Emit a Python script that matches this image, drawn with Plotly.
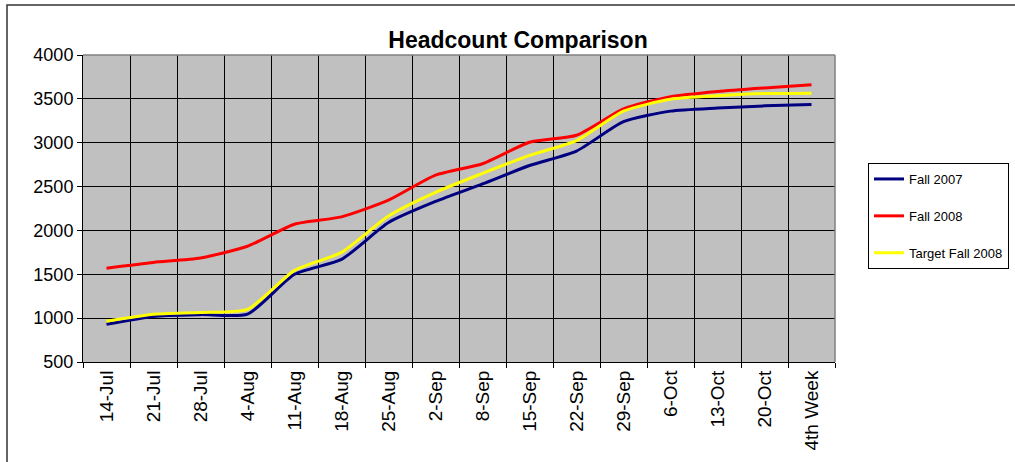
import plotly.graph_objects as go

weeks = ["14-Jul", "21-Jul", "28-Jul", "4-Aug", "11-Aug", "18-Aug", "25-Aug", "2-Sep",
         "8-Sep", "15-Sep", "22-Sep", "29-Sep", "6-Oct", "13-Oct", "20-Oct", "4th Week"]
fall_2007 = [930, 1020, 1040, 1045, 1500, 1670, 2090, 2330, 2530, 2740, 2905, 3240,
             3360, 3395, 3420, 3435]
fall_2008 = [1570, 1635, 1685, 1820, 2070, 2155, 2345, 2630, 2760, 3005, 3085, 3385,
             3525, 3585, 3625, 3660]
target_2008 = [965, 1045, 1065, 1100, 1545, 1750, 2165, 2435, 2650, 2855, 3025, 3360,
               3495, 3535, 3560, 3565]

series = [("Fall 2007", fall_2007, "#000080"),
          ("Fall 2008", fall_2008, "#FF0000"),
          ("Target Fall 2008", target_2008, "#FFFF00")]

FONT = "Arial, Liberation Sans, sans-serif"

fig = go.Figure()
for name, vals, col in series:
    fig.add_trace(go.Scatter(
        x=weeks, y=vals, name=name, mode="lines",
        line=dict(color=col, width=3, shape="spline", smoothing=0.6),
        legendgroup=name,
    ))

fig.update_layout(
    width=1015, height=462,
    margin=dict(l=83, r=180, t=55, b=100, autoexpand=False),
    paper_bgcolor="white",
    plot_bgcolor="#C0C0C0",
    font=dict(family=FONT, color="black"),
    title=dict(text="<b>Headcount Comparison</b>", font=dict(family=FONT, size=23, color="black"),
               x=518 / 1015, xanchor="center", xref="container",
               y=1 - 40 / 462, yanchor="middle", yref="container"),
    showlegend=True,
    legend=dict(x=(868 - 83) / 752, xanchor="left", y=(362 - 163) / 307, yanchor="top",
                bgcolor="white", bordercolor="black", borderwidth=1,
                font=dict(family=FONT, size=13, color="black"),
                tracegroupgap=17, itemwidth=30),
    xaxis=dict(type="category", tickson="boundaries", tickangle=-90, automargin=False,
               showgrid=True, gridcolor="black", gridwidth=1,
               ticks="outside", ticklen=5, tickcolor="black",
               showline=True, linecolor="black", linewidth=1,
               tickfont=dict(family=FONT, size=19, color="black"),
               range=[-0.5, 15.5]),
    yaxis=dict(range=[500, 4000], dtick=500, tick0=500, automargin=False,
               showgrid=True, gridcolor="black", gridwidth=1,
               ticks="outside", ticklen=5, tickcolor="black",
               showline=True, linecolor="black", linewidth=1,
               tickfont=dict(family=FONT, size=18, color="black"),
               zeroline=False),
    shapes=[
        dict(type="line", xref="paper", yref="paper", x0=0, x1=1, y0=1, y1=1,
             line=dict(color="#808080", width=1.5)),
        dict(type="line", xref="paper", yref="paper", x0=1, x1=1, y0=0, y1=1,
             line=dict(color="#808080", width=1.5)),
        dict(type="rect", xref="paper", yref="paper",
             x0=(7 - 83) / 752, x1=1.5, y0=-0.6, y1=(362 - 5) / 307,
             line=dict(color="#333333", width=1.5)),
    ],
)

fig.write_html("out.html", config={"displayModeBar": False},
               post_script="document.body.style.margin='0';")
